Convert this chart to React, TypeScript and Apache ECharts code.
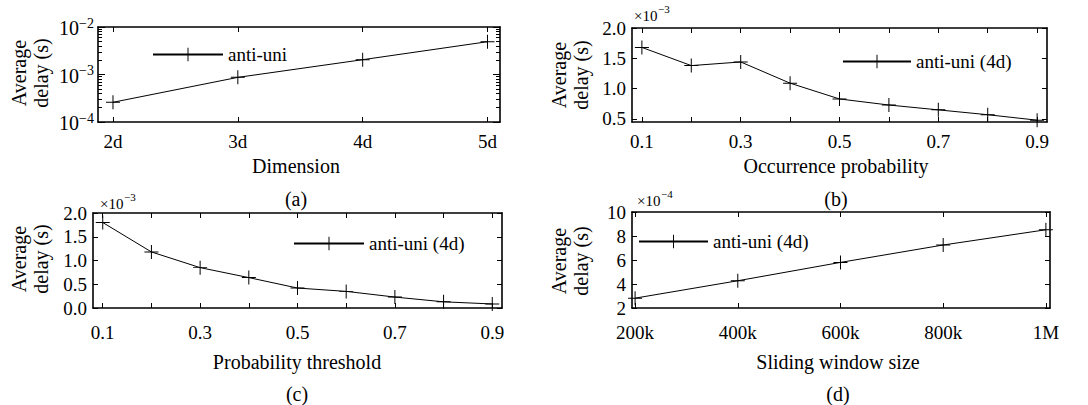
import React, { useEffect, useRef } from "react";
import * as echarts from "echarts";

// ---------- data ----------
const dimensionValues = [2, 3, 4, 5];
const dimensionDelay = [2.6e-4, 8.7e-4, 2.05e-3, 4.9e-3];

const occurrenceProb = [0.1, 0.2, 0.3, 0.4, 0.5, 0.6, 0.7, 0.8, 0.9];
const occurrenceDelay = [1.68, 1.38, 1.44, 1.09, 0.83, 0.73, 0.65, 0.57, 0.48]; // x1e-3

const thresholdProb = [0.1, 0.2, 0.3, 0.4, 0.5, 0.6, 0.7, 0.8, 0.9];
const thresholdDelay = [1.8, 1.18, 0.85, 0.64, 0.42, 0.35, 0.23, 0.13, 0.085]; // x1e-3

const windowSizeK = [200, 400, 600, 800, 1000];
const windowDelay = [2.82, 4.27, 5.8, 7.25, 8.52]; // x1e-4

// ---------- ticks ----------
const dimensionTicks = [2, 3, 4, 5];
const probTicks = [0.1, 0.2, 0.3, 0.4, 0.5, 0.6, 0.7, 0.8, 0.9];
const probLabels = [0.1, 0.3, 0.5, 0.7, 0.9];
const occYTicks = [0.5, 1.0, 1.5, 2.0];
const thrYTicks = [0, 0.5, 1.0, 1.5, 2.0];
const winXTicks = [200, 400, 600, 800, 1000];
const winYTicks = [2, 4, 6, 8, 10];
const logMinorMantissas = [2, 3, 4, 5, 6, 7, 8, 9];
const logMinorDecades = [-4, -3];

const FONT = "'Liberation Serif', 'Times New Roman', serif";
const FS = 19;
const TITLE_FS = 20;
const BLACK = "#000";

const plusSymbol =
  "path://M6.5,0H7.5V6.5H14V7.5H7.5V14H6.5V7.5H0V6.5H6.5Z";

function xPair(grid: number, min: number, max: number, ticks: number[], labels: number[], fmt: (v: number) => string, margin: number) {
  const base: any = {
    type: "value",
    gridIndex: grid,
    min,
    max,
    splitLine: { show: false },
    axisLine: { show: true, onZero: false, lineStyle: { color: BLACK, width: 1.6 } },
    axisTick: { show: true, inside: true, length: 5, customValues: ticks, lineStyle: { color: BLACK, width: 1 } },
  };
  return [
    {
      ...base,
      position: "bottom",
      axisLabel: { show: true, customValues: labels, formatter: fmt, margin, color: BLACK, fontFamily: FONT, fontSize: FS },
    },
    { ...base, position: "top", axisLabel: { show: false } },
  ];
}

function yPair(grid: number, min: number, max: number, ticks: number[], fmt: (v: number) => string) {
  const base: any = {
    type: "value",
    gridIndex: grid,
    min,
    max,
    splitLine: { show: false },
    axisLine: { show: true, onZero: false, lineStyle: { color: BLACK, width: 1.6 } },
    axisTick: { show: true, inside: true, length: 5, customValues: ticks, lineStyle: { color: BLACK, width: 1 } },
  };
  return [
    {
      ...base,
      position: "left",
      axisLabel: { show: true, customValues: ticks, formatter: fmt, margin: 6, color: BLACK, fontFamily: FONT, fontSize: FS },
    },
    { ...base, position: "right", axisLabel: { show: false } },
  ];
}

function textEl(text: string, x: number, y: number, rotation = 0, size = TITLE_FS, align = "center") {
  return {
    type: "text",
    x,
    y,
    rotation,
    style: {
      text,
      fill: BLACK,
      fontFamily: FONT,
      fontSize: size,
      font: `${size}px ${FONT}`,
      lineHeight: 22,
      align,
      verticalAlign: "middle",
      textAlign: align,
      textVerticalAlign: "middle",
    },
  };
}

function multiplier(exp: string, x: number, y: number) {
  return [
    textEl("×10", x, y, 0, 15, "left"),
    textEl(exp, x + 24, y - 7, 0, 11, "left"),
  ];
}

function series(name: string, xs: number[], ys: number[], axis: number) {
  return {
    type: "line",
    name,
    xAxisIndex: axis,
    yAxisIndex: axis,
    data: xs.map((x, i) => [x, ys[i]]),
    symbol: plusSymbol,
    symbolSize: 14,
    showSymbol: true,
    lineStyle: { color: BLACK, width: 1 },
    itemStyle: { color: BLACK },
    emphasis: { disabled: true },
    silent: true,
  };
}

function legend(name: string, left: number, top: number, width: number) {
  return {
    show: true,
    left,
    top,
    padding: 0,
    itemWidth: width,
    itemHeight: 17,
    selectedMode: false,
    data: [name],
    textStyle: { color: BLACK, fontFamily: FONT, fontSize: FS },
  };
}

export default function App() {
  const ref = useRef<HTMLDivElement>(null);
  useEffect(() => {
    if (!ref.current) return;
    const chart = echarts.init(ref.current, undefined, { renderer: "svg" });

    const logMinor: number[] = [];
    logMinorDecades.forEach((d) => logMinorMantissas.forEach((m) => logMinor.push(Math.log10(m) + d)));

    const xAxes = [
      ...xPair(0, 1.88, 5.1, dimensionTicks, dimensionTicks, (v) => `${v}d`, 10),
      ...xPair(1, 0.08, 0.92, probTicks, probLabels, (v) => v.toFixed(1), 10),
      ...xPair(2, 0.08, 0.92, probTicks, probLabels, (v) => v.toFixed(1), 15),
      ...xPair(3, 194, 1008, winXTicks, winXTicks, (v) => (v >= 1000 ? "1M" : `${v}k`), 15),
    ];

    const logBase: any = {
      type: "log",
      logBase: 10,
      gridIndex: 0,
      min: 1e-4,
      max: 1e-2,
      interval: 1,
      splitLine: { show: false },
      axisLine: { show: true, onZero: false, lineStyle: { color: BLACK, width: 1.6 } },
      axisTick: { show: true, inside: true, length: 7, lineStyle: { color: BLACK, width: 1 } },
    };
    const minorBase: any = {
      type: "value",
      gridIndex: 0,
      min: -4,
      max: -2,
      splitLine: { show: false },
      axisLine: { show: false },
      axisLabel: { show: false },
      axisTick: { show: true, inside: true, length: 4, customValues: logMinor, lineStyle: { color: BLACK, width: 1 } },
    };

    const yAxes = [
      {
        ...logBase,
        position: "left",
        axisLabel: {
          show: true,
          margin: 4,
          formatter: (v: number) => `{b|10}{s|−${Math.round(-Math.log10(v))}}`,
          rich: {
            b: { fontFamily: FONT, fontSize: 20, lineHeight: 22, verticalAlign: "bottom", color: BLACK },
            s: { fontFamily: FONT, fontSize: 14, lineHeight: 14, verticalAlign: "top", color: BLACK },
          },
        },
      },
      { ...logBase, position: "right", axisLabel: { show: false } },
      ...yPair(1, 0.45, 2.0, occYTicks, (v) => v.toFixed(1)),
      ...yPair(2, 0, 2.0, thrYTicks, (v) => v.toFixed(1)),
      ...yPair(3, 2, 10, winYTicks, (v) => `${v}`),
      { ...minorBase, position: "left" },
      { ...minorBase, position: "right" },
    ];

    const option: any = {
      animation: false,
      backgroundColor: "#fff",
      textStyle: { fontFamily: FONT },
      grid: [
        { left: 98, top: 27, width: 402, height: 95 },
        { left: 632, top: 28, width: 415, height: 94 },
        { left: 93, top: 213, width: 409, height: 95 },
        { left: 632, top: 212, width: 418, height: 96 },
      ],
      xAxis: xAxes,
      yAxis: yAxes,
      legend: [
        legend("anti-uni", 152, 45, 70),
        legend("anti-uni (4d)", 842, 52, 68),
        legend("anti-uni (4d)", 293, 234, 70),
        legend("anti-uni (4d)", 638, 232, 69),
      ],
      series: [
        series("anti-uni", dimensionValues, dimensionDelay, 0),
        series("anti-uni (4d)", occurrenceProb, occurrenceDelay, 2),
        series("anti-uni (4d)", thresholdProb, thresholdDelay, 4),
        series("anti-uni (4d)", windowSizeK, windowDelay, 6),
      ],
      graphic: [
        textEl("Average\ndelay (s)", 30, 73, Math.PI / 2),
        textEl("Average\ndelay (s)", 570, 75, Math.PI / 2),
        textEl("Average\ndelay (s)", 30, 259, Math.PI / 2),
        textEl("Average\ndelay (s)", 570, 261, Math.PI / 2),
        textEl("Dimension", 296, 166),
        textEl("Occurrence probability", 836, 166),
        textEl("Probability threshold", 297, 362),
        textEl("Sliding window size", 838, 362),
        textEl("(a)", 296, 199),
        textEl("(b)", 836, 199),
        textEl("(c)", 297, 394),
        textEl("(d)", 838, 394),
        ...multiplier("−3", 634, 16),
        ...multiplier("−3", 100, 204),
        ...multiplier("−4", 637, 201),
      ],
    };
    chart.setOption(option);
    return () => chart.dispose();
  }, []);
  return (
    <div
      ref={ref}
      style={{ position: "absolute", left: 0, top: 0, width: 1088, height: 405 }}
    />
  );
}
